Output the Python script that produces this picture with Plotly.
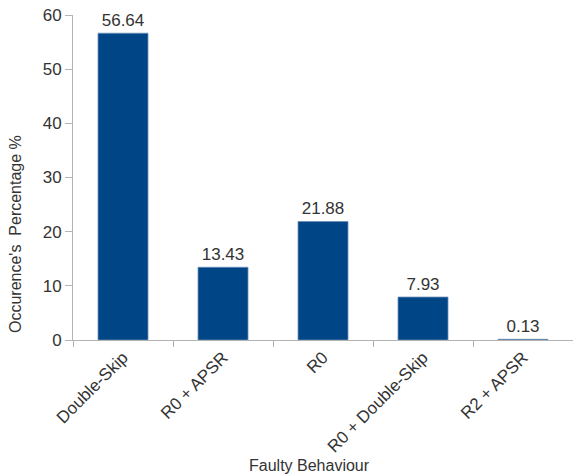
import plotly.graph_objects as go

categories = ["Double-Skip", "R0 + APSR", "R0", "R0 + Double-Skip", "R2 + APSR"]
values = [56.64, 13.43, 21.88, 7.93, 0.13]
y_ticks = [0, 10, 20, 30, 40, 50, 60]

FONT = "Liberation Sans, Arial, sans-serif"
TXT = "#333333"
AX = "#b3b3b3"

fig = go.Figure(go.Bar(
    x=categories, y=values,
    marker=dict(color="#004586", line=dict(color="#6f8fb8", width=0.8)),
    width=0.5,
    text=[f"{v:.2f}" for v in values],
    textposition="outside",
    textfont=dict(family=FONT, size=17, color=TXT),
    cliponaxis=False,
))

fig.update_layout(
    width=573, height=476,
    margin=dict(l=73, r=0, t=15, b=136),
    paper_bgcolor="white", plot_bgcolor="white",
    showlegend=False,
    font=dict(family=FONT, size=17, color=TXT),
    xaxis=dict(
        type="category",
        automargin=False,
        tickson="boundaries",
        ticks="outside", ticklen=6, tickcolor=AX,
        showline=True, linecolor=AX, linewidth=1,
        showgrid=False,
        tickangle=-45,
        tickfont=dict(family=FONT, size=17, color=TXT),
    ),
    yaxis=dict(
        automargin=False,
        range=[0, 60],
        tickvals=y_ticks,
        ticks="outside", ticklen=7, tickcolor=AX,
        showline=True, linecolor=AX, linewidth=1,
        showgrid=False, zeroline=False,
        tickfont=dict(family=FONT, size=17, color=TXT),
    ),
    annotations=[
        dict(text="Faulty Behaviour", xref="paper", yref="paper",
             x=(309 - 73) / 500, y=-(466 - 340) / 325, xanchor="center", yanchor="middle",
             showarrow=False, font=dict(family=FONT, size=16, color=TXT)),
        dict(text="Occurence's  Percentage %", xref="paper", yref="paper",
             x=-(73 - 15) / 500, y=(340 - 234) / 325, xanchor="center", yanchor="middle",
             textangle=-90,
             showarrow=False, font=dict(family=FONT, size=16, color=TXT)),
    ],
)

fig.write_html("out.html",
               config={"displayModeBar": False, "staticPlot": True},
               post_script="document.body.style.margin='0';document.body.style.overflow='hidden';")
